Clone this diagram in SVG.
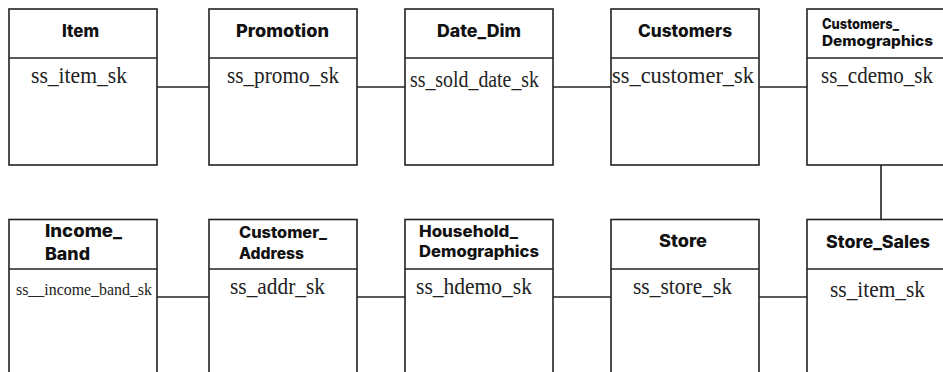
<svg xmlns="http://www.w3.org/2000/svg" width="943" height="372" viewBox="0 0 943 372">
<style>
.box{fill:#fff;stroke:#222;stroke-width:1.6}
.sep{stroke:#222;stroke-width:1.6}
.conn line{stroke:#222;stroke-width:1.6}
.h{font-family:"Inter","Roboto","Liberation Sans",sans-serif;font-weight:800;fill:#111}
.b{font-family:"Liberation Serif","DejaVu Serif",serif;fill:#222}
</style>
<rect width="943" height="372" fill="#fff"/>
<g class="conn">
<line x1="157" y1="87" x2="209" y2="87"/>
<line x1="357" y1="87" x2="405" y2="87"/>
<line x1="553" y1="87" x2="611" y2="87"/>
<line x1="759" y1="87" x2="807" y2="87"/>
<line x1="881" y1="165" x2="881" y2="219.5"/>
<line x1="157" y1="297" x2="209" y2="297"/>
<line x1="357" y1="297" x2="405" y2="297"/>
<line x1="553" y1="297" x2="611" y2="297"/>
<line x1="759" y1="297" x2="807" y2="297"/>
</g>
<g id="item">
<rect class="box" x="9" y="9" width="148" height="156"/>
<line class="sep" x1="9" y1="58" x2="157" y2="58"/>
<text class="h" x="62" y="37" font-size="17" textLength="37" lengthAdjust="spacingAndGlyphs">Item</text>
<text class="b" x="31" y="83" font-size="23" textLength="96" lengthAdjust="spacingAndGlyphs">ss_item_sk</text>
</g>
<g id="promotion">
<rect class="box" x="209" y="9" width="148" height="156"/>
<line class="sep" x1="209" y1="58" x2="357" y2="58"/>
<text class="h" x="236" y="37" font-size="17" textLength="93" lengthAdjust="spacingAndGlyphs">Promotion</text>
<text class="b" x="227" y="83" font-size="23" textLength="112" lengthAdjust="spacingAndGlyphs">ss_promo_sk</text>
</g>
<g id="date_dim">
<rect class="box" x="405" y="9" width="148" height="156"/>
<line class="sep" x1="405" y1="58" x2="553" y2="58"/>
<text class="h" x="437" y="37" font-size="17" textLength="84" lengthAdjust="spacingAndGlyphs">Date_Dim</text>
<text class="b" x="410" y="87" font-size="23" textLength="129" lengthAdjust="spacingAndGlyphs">ss_sold_date_sk</text>
</g>
<g id="customers">
<rect class="box" x="611" y="9" width="148" height="156"/>
<line class="sep" x1="611" y1="58" x2="759" y2="58"/>
<text class="h" x="638" y="37" font-size="17" textLength="94" lengthAdjust="spacingAndGlyphs">Customers</text>
<text class="b" x="612" y="83" font-size="23" textLength="142" lengthAdjust="spacingAndGlyphs">ss_customer_sk</text>
</g>
<g id="customers_demographics">
<rect class="box" x="807" y="9" width="148" height="156"/>
<line class="sep" x1="807" y1="58" x2="955" y2="58"/>
<text class="h" x="822" y="29" font-size="14.5" textLength="77" lengthAdjust="spacingAndGlyphs">Customers_</text>
<text class="h" x="822" y="46" font-size="14.5" textLength="111" lengthAdjust="spacingAndGlyphs">Demographics</text>
<text class="b" x="821" y="83" font-size="23" textLength="112" lengthAdjust="spacingAndGlyphs">ss_cdemo_sk</text>
</g>
<g id="income_band">
<rect class="box" x="9" y="219.5" width="148" height="170"/>
<line class="sep" x1="9" y1="269" x2="157" y2="269"/>
<text class="h" x="45" y="237" font-size="17" textLength="77" lengthAdjust="spacingAndGlyphs">Income_</text>
<text class="h" x="45" y="260" font-size="17" textLength="45" lengthAdjust="spacingAndGlyphs">Band</text>
<text class="b" x="16" y="295" font-size="17" textLength="136" lengthAdjust="spacingAndGlyphs">ss__income_band_sk</text>
</g>
<g id="customer_address">
<rect class="box" x="209" y="219.5" width="148" height="170"/>
<line class="sep" x1="209" y1="269" x2="357" y2="269"/>
<text class="h" x="239" y="238" font-size="15.5" textLength="88" lengthAdjust="spacingAndGlyphs">Customer_</text>
<text class="h" x="239" y="259" font-size="15.5" textLength="65" lengthAdjust="spacingAndGlyphs">Address</text>
<text class="b" x="230" y="294" font-size="23" textLength="95" lengthAdjust="spacingAndGlyphs">ss_addr_sk</text>
</g>
<g id="household_demographics">
<rect class="box" x="405" y="219.5" width="148" height="170"/>
<line class="sep" x1="405" y1="269" x2="553" y2="269"/>
<text class="h" x="419" y="237" font-size="15.5" textLength="99" lengthAdjust="spacingAndGlyphs">Household_</text>
<text class="h" x="419" y="257" font-size="15.5" textLength="120" lengthAdjust="spacingAndGlyphs">Demographics</text>
<text class="b" x="416" y="294" font-size="23" textLength="116" lengthAdjust="spacingAndGlyphs">ss_hdemo_sk</text>
</g>
<g id="store">
<rect class="box" x="611" y="219.5" width="148" height="170"/>
<line class="sep" x1="611" y1="269" x2="759" y2="269"/>
<text class="h" x="659" y="247" font-size="17" textLength="48" lengthAdjust="spacingAndGlyphs">Store</text>
<text class="b" x="633" y="294" font-size="23" textLength="99" lengthAdjust="spacingAndGlyphs">ss_store_sk</text>
</g>
<g id="store_sales">
<rect class="box" x="807" y="219.5" width="148" height="170"/>
<line class="sep" x1="807" y1="269" x2="955" y2="269"/>
<text class="h" x="826" y="248" font-size="17" textLength="104" lengthAdjust="spacingAndGlyphs">Store_Sales</text>
<text class="b" x="830" y="297" font-size="23" textLength="95" lengthAdjust="spacingAndGlyphs">ss_item_sk</text>
</g>
</svg>
